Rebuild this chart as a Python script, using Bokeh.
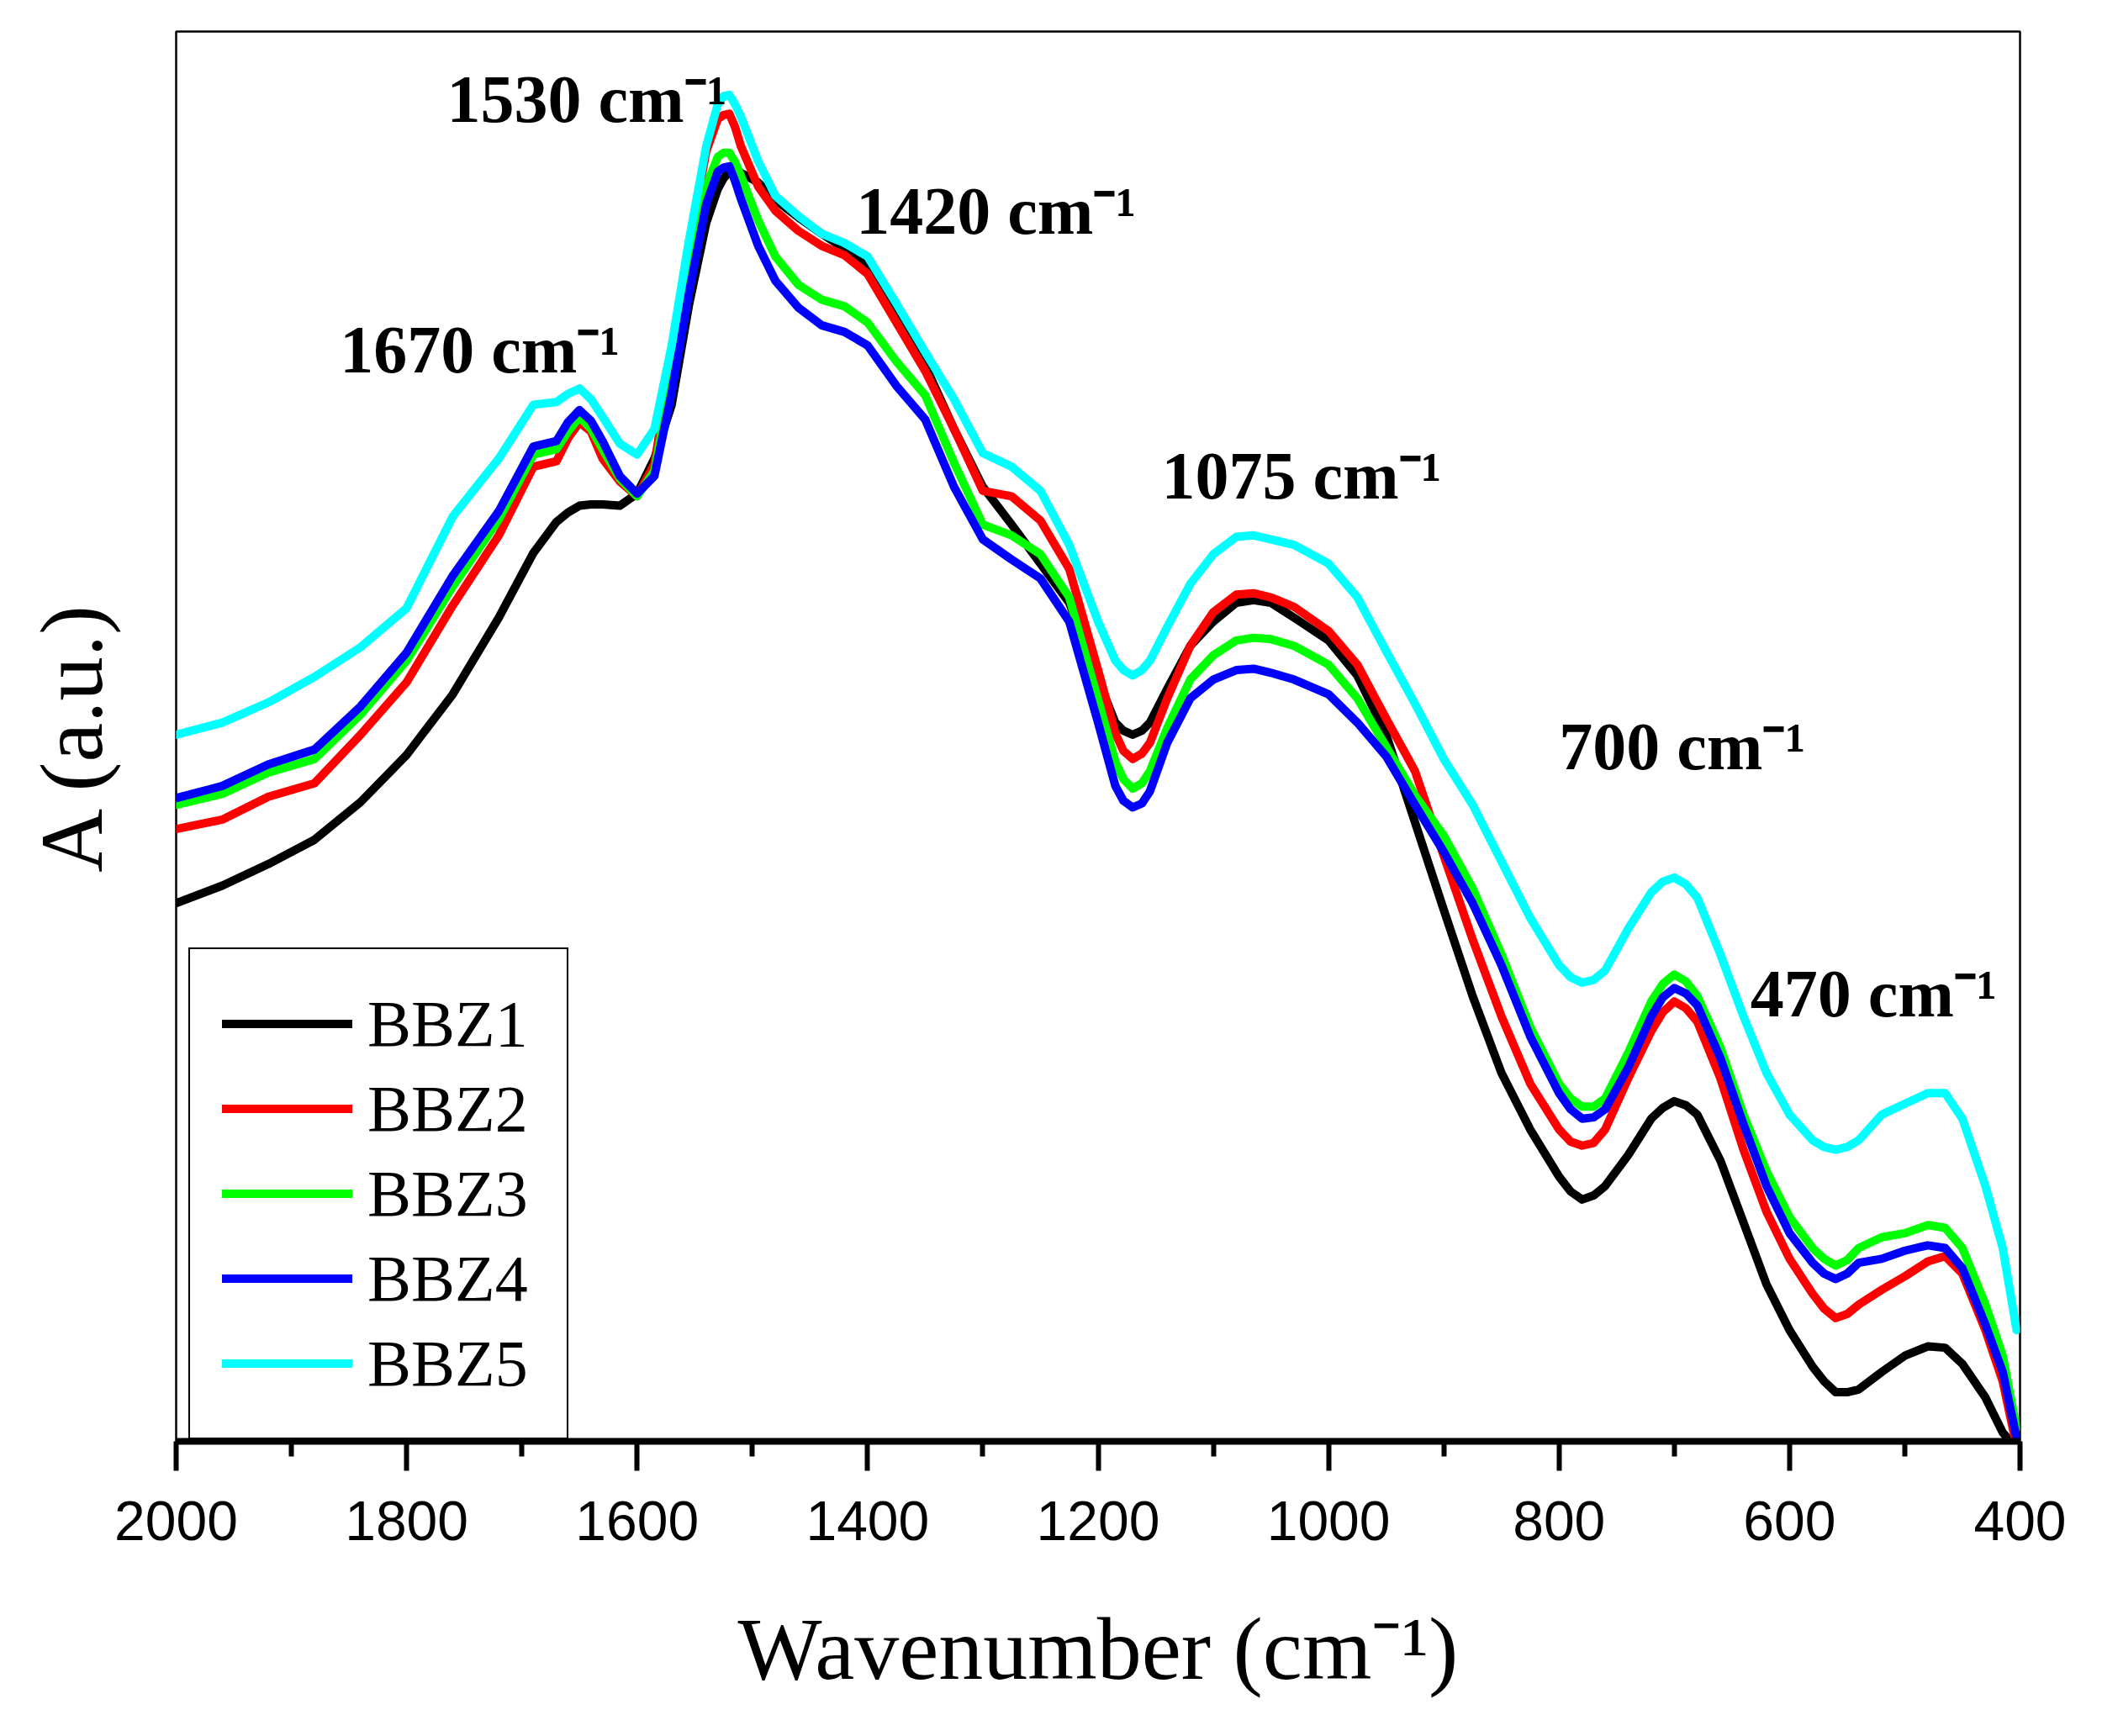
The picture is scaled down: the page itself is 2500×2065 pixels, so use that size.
from bokeh.plotting import figure
from bokeh.models import Range1d, FixedTicker, Legend, LegendItem, ColumnDataSource
from bokeh.core.properties import value
from bokeh.embed import file_html
from bokeh.resources import INLINE

# wavenumber grid (cm-1) shared by all spectra
wavenumber = [2000, 1960, 1920, 1880, 1840, 1800, 1760, 1720, 1690, 1670, 1660, 1650, 1640, 1630,
              1615, 1600, 1585, 1570, 1555, 1540, 1530, 1525, 1520, 1515, 1510, 1495, 1480,
              1460, 1440, 1420, 1400, 1375, 1350, 1325, 1300, 1275, 1250, 1225, 1200, 1185,
              1178, 1170, 1162, 1155, 1140, 1120, 1100, 1080, 1065, 1050, 1030, 1000, 975,
              950, 925, 900, 875, 850, 825, 800, 790, 780, 770, 760, 740, 720, 710, 700, 690,
              680, 660, 640, 620, 600, 580, 570, 560, 550, 540, 520, 500, 480, 465, 450, 430,
              415, 403]

# absorbance, arbitrary units
bbz1 = [405, 418, 434, 452, 480, 515, 560, 617, 665, 688, 695, 700, 701, 701,
        700, 709, 735, 775, 849, 910, 935, 943, 948, 949, 947, 940, 927,
        914, 902, 891, 878, 840, 804, 757, 714, 686, 657, 628, 571, 539,
        533, 530, 533, 539, 564, 596, 614, 628, 630, 628, 617, 600, 574,
        530, 465, 400, 336, 279, 237, 202, 191, 185, 188, 195, 218, 245, 253, 258, 255,
        248, 214, 168, 122, 88, 61, 50, 42, 42, 44, 57, 69, 76, 75, 63, 38,
        12, 0]
bbz2 = [460, 467, 484, 494, 530, 569, 626, 678, 729, 733, 750, 762, 755, 735,
        718, 707, 731, 810, 893, 963, 987, 990, 991, 981, 967, 937, 919,
        904, 893, 886, 872, 836, 800, 757, 711, 707, 689, 653, 578, 531,
        518, 512, 516, 524, 557, 596, 621, 634, 635, 632, 625, 607, 582,
        542, 503, 440, 378, 321, 271, 237, 228, 225, 227, 237, 275, 310, 324, 332, 327,
        317, 275, 222, 176, 141, 115, 104, 97, 100, 107, 118, 128, 139, 143, 130, 88,
        50, 2]
bbz3 = [478, 486, 502, 512, 545, 585, 640, 690, 738, 742, 755, 766, 757, 742,
        720, 707, 726, 795, 871, 937, 959, 962, 962, 955, 945, 912, 885,
        864, 853, 848, 836, 807, 782, 732, 686, 678, 664, 632, 556, 510,
        497, 490, 494, 503, 535, 571, 589, 600, 602, 601, 596, 582, 557,
        521, 485, 455, 416, 367, 313, 271, 260, 254, 254, 260, 294, 332, 345, 352, 347,
        336, 298, 248, 206, 172, 149, 141, 136, 140, 149, 157, 160, 166, 164, 149, 107,
        69, 15]
bbz4 = [483, 492, 508, 519, 551, 591, 648, 696, 744, 748, 762, 771, 763, 748,
        722, 709, 722, 784, 858, 924, 948, 951, 952, 941, 928, 893, 867,
        847, 834, 829, 819, 789, 764, 714, 675, 660, 646, 614, 539, 492,
        481, 476, 479, 488, 524, 557, 571, 578, 579, 576, 571, 560, 539,
        514, 478, 443, 405, 359, 306, 264, 252, 245, 246, 252, 283, 321, 335, 342, 338,
        329, 290, 241, 195, 160, 138, 130, 126, 130, 138, 141, 147, 151, 149, 134, 92,
        57, 8]
bbz5 = [530, 539, 554, 573, 595, 624, 692, 735, 775, 777, 783, 787, 779, 766,
        746, 738, 757, 819, 897, 967, 998, 1004, 1005, 998, 989, 956, 930,
        915, 902, 895, 885, 850, 814, 779, 739, 729, 711, 671, 614, 585,
        578, 574, 578, 585, 610, 642, 664, 677, 678, 675, 671, 657, 632,
        592, 553, 512, 478, 436, 394, 359, 350, 346, 348, 355, 386, 413, 421, 424, 419,
        409, 367, 321, 279, 248, 229, 224, 222, 224, 229, 248, 256, 264, 264, 245, 195,
        149, 88]

names = ["BBZ1", "BBZ2", "BBZ3", "BBZ4", "BBZ5"]
colors = ["#000000", "#ff0000", "#00ff00", "#0000ff", "#00ffff"]

peak_text = ["1530 cm\u207b\u00b9", "1670 cm\u207b\u00b9", "1420 cm\u207b\u00b9",
             "1075 cm\u207b\u00b9", "700 cm\u207b\u00b9", "470 cm\u207b\u00b9"]
peak_x = [1765, 1858, 1410, 1145, 800, 634]
peak_y = [1002, 816, 919, 722, 521, 338]

major_ticks = [2000, 1800, 1600, 1400, 1200, 1000, 800, 600, 400]
minor_ticks = [1900, 1700, 1500, 1300, 1100, 900, 700, 500]

serif = "Liberation Serif"

p = figure(width=2484, height=2049, output_backend="svg", toolbar_location=None,
           x_range=Range1d(2000, 400), y_range=Range1d(5.5, 1052),
           min_border_left=209, min_border_right=82, min_border_top=37, min_border_bottom=335)
p.xgrid.grid_line_color = None
p.ygrid.grid_line_color = None
p.outline_line_color = "black"
p.outline_line_width = 2.5
p.outline_line_alpha = 1.0

items = []
for name, ys, c in zip(names, [bbz1, bbz2, bbz3, bbz4, bbz5], colors):
    r = p.line(wavenumber, ys, line_color=c, line_width=10, line_join="round", line_cap="round")
    items.append(LegendItem(label=name, renderers=[r]))

src = ColumnDataSource(dict(x=peak_x, y=peak_y, text=peak_text))
p.text(x="x", y="y", text="text", source=src, text_font=value(serif), text_font_style="bold",
       text_font_size=value("80px"), text_baseline="alphabetic", text_align="left", text_color="black")

legend = Legend(items=items, location=(15, 2), padding=38, spacing=0, margin=0,
                glyph_width=155, glyph_height=101, label_height=101, label_width=199,
                label_standoff=18, label_text_font=serif, label_text_font_size="78px",
                label_text_color="black",
                border_line_color="black", border_line_width=2.5, border_line_alpha=1.0,
                background_fill_color="white", background_fill_alpha=1.0)
p.add_layout(legend)

xa = p.xaxis[0]
xa.ticker = FixedTicker(ticks=major_ticks, minor_ticks=minor_ticks)
xa.axis_line_width = 8
xa.axis_line_color = "black"
xa.major_tick_line_width = 6
xa.minor_tick_line_width = 6
xa.major_tick_line_color = "black"
xa.minor_tick_line_color = "black"
xa.major_tick_in = 0
xa.major_tick_out = 35
xa.minor_tick_in = 0
xa.minor_tick_out = 18
xa.major_label_text_font = "Liberation Sans"
xa.major_label_text_font_size = "66px"
xa.major_label_text_color = "black"
xa.major_label_standoff = 36
xa.axis_label = "Wavenumber (cm\u207b\u00b9)"
xa.axis_label_text_font = serif
xa.axis_label_text_font_size = "106px"
xa.axis_label_text_font_style = "normal"
xa.axis_label_text_color = "black"
xa.axis_label_standoff = 68

ya = p.yaxis[0]
ya.ticker = FixedTicker(ticks=[])
ya.axis_line_color = None
ya.major_tick_line_color = None
ya.minor_tick_line_color = None
ya.major_label_text_font_size = "0px"
ya.axis_label = "A (a.u.)"
ya.axis_label_text_font = serif
ya.axis_label_text_font_size = "105px"
ya.axis_label_text_font_style = "normal"
ya.axis_label_text_color = "black"
ya.axis_label_standoff = 66

open("out.html", "w", encoding="utf-8").write(file_html(p, INLINE))
